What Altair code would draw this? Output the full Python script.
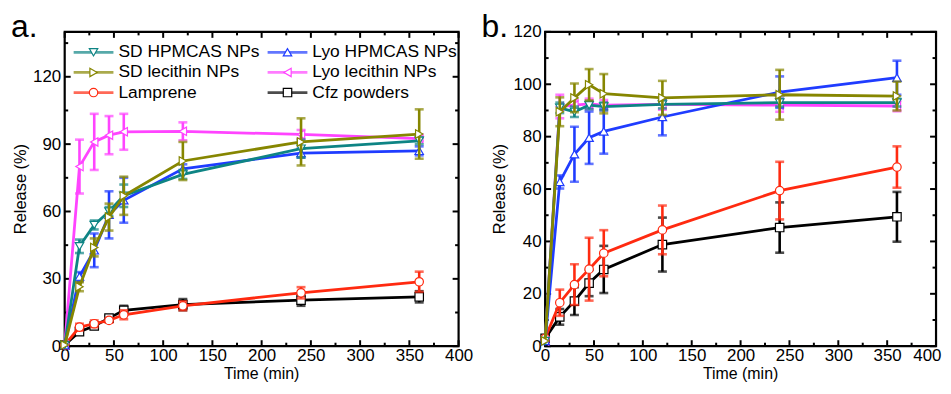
import altair as alt
import pandas as pd

FONT = "Liberation Sans"

TIME = [0, 15, 30, 45, 60, 120, 240, 360]
SERIES = ["SD HPMCAS NPs", "Lyo HPMCAS NPs", "SD lecithin NPs",
          "Lyo lecithin NPs", "Lamprene", "Cfz powders"]
COLORS = ["#0E8484", "#1F3CFF", "#868600", "#FF44FF", "#FF2A10", "#000000"]
SHAPES = ["triangle-down", "triangle-up", "triangle-right",
          "triangle-left", "circle", "square"]
DRAW_ORDER = [5, 4, 3, 1, 0, 2]

# Panel a: release (%) and error
A_VALUES = {
    "SD HPMCAS NPs":    [0.5, 44.5, 54.0, 60.0, 67.0, 76.5, 88.0, 91.5],
    "Lyo HPMCAS NPs":   [0.5, 31.0, 42.7, 58.5, 65.0, 79.0, 86.0, 87.0],
    "SD lecithin NPs":  [0.5, 26.5, 44.0, 57.5, 67.0, 82.5, 91.0, 94.5],
    "Lyo lecithin NPs": [0.5, 80.0, 91.0, 94.0, 95.5, 95.7, 94.3, 92.5],
    "Lamprene":         [0.5, 8.5, 10.0, 11.5, 14.0, 18.0, 23.8, 28.7],
    "Cfz powders":      [0.5, 6.5, 9.0, 12.5, 16.0, 18.5, 20.5, 22.0],
}
A_ERRORS = {
    "SD HPMCAS NPs":    [0, 3.0, 2.0, 2.0, 5.0, 2.0, 4.0, 1.5],
    "Lyo HPMCAS NPs":   [0, 2.0, 7.5, 10.5, 10.0, 2.0, 2.0, 2.0],
    "SD lecithin NPs":  [0, 2.0, 4.0, 6.0, 8.5, 8.5, 10.5, 11.0],
    "Lyo lecithin NPs": [0, 12.0, 12.5, 8.5, 8.0, 4.0, 2.0, 1.0],
    "Lamprene":         [0, 1.5, 1.5, 1.0, 2.0, 2.0, 2.5, 4.5],
    "Cfz powders":      [0, 1.0, 1.0, 1.0, 2.0, 2.5, 2.5, 2.5],
}

# Panel b
B_VALUES = {
    "SD HPMCAS NPs":    [2.0, 91.0, 89.5, 92.0, 91.5, 92.3, 93.0, 93.0],
    "Lyo HPMCAS NPs":   [2.0, 62.7, 73.3, 79.6, 82.0, 87.5, 97.0, 102.5],
    "SD lecithin NPs":  [2.0, 89.5, 94.8, 99.8, 96.4, 94.8, 96.0, 95.5],
    "Lyo lecithin NPs": [2.0, 91.5, 92.0, 92.5, 92.0, 92.3, 92.0, 91.7],
    "Lamprene":         [3.0, 16.6, 23.5, 29.4, 35.5, 44.4, 59.4, 68.4],
    "Cfz powders":      [3.0, 11.2, 17.2, 24.1, 29.3, 38.8, 45.3, 49.4],
}
B_ERRORS = {
    "SD HPMCAS NPs":    [0, 2.0, 2.0, 1.5, 1.5, 1.5, 1.5, 1.5],
    "Lyo HPMCAS NPs":   [0, 2.5, 10.5, 10.0, 8.5, 7.0, 6.0, 6.5],
    "SD lecithin NPs":  [0, 5.5, 5.5, 6.0, 7.5, 6.5, 9.5, 5.5],
    "Lyo lecithin NPs": [0, 4.5, 2.0, 2.0, 2.0, 2.0, 2.5, 2.0],
    "Lamprene":         [0, 5.0, 7.8, 12.0, 8.8, 9.3, 11.0, 7.9],
    "Cfz powders":      [0, 3.0, 5.3, 5.0, 9.0, 10.3, 9.6, 9.5],
}

X_MAJOR = [0, 50, 100, 150, 200, 250, 300, 350, 400]
X_MINOR = [25, 75, 125, 175, 225, 275, 325, 375]
A_Y_MAJOR = [0, 30, 60, 90, 120]
A_Y_MINOR = [15, 45, 75, 105, 135]
B_Y_MAJOR = [0, 20, 40, 60, 80, 100, 120]
B_Y_MINOR = [10, 30, 50, 70, 90, 110]

X_TITLE = "Time (min)"
Y_TITLE = "Release (%)"

LEG_COL = [0, 1, 0, 1, 0, 1]
LEG_ROW = [0, 0, 1, 1, 2, 2]

W_A, W_B, H = 396, 393, 316


def make_df(values, errors):
    rows = []
    for s in SERIES:
        for t, y, e in zip(TIME, values[s], errors[s]):
            rows.append({"s": s, "t": t, "y": y, "e": e})
    return pd.DataFrame(rows)


def text_layer(txt, **kw):
    enc = {k: v for k, v in kw.items() if k in ("x", "y")}
    mk = {k: v for k, v in kw.items() if k not in ("x", "y")}
    return alt.Chart(pd.DataFrame({"l": [txt]})).mark_text(
        font=FONT, color="black", fontWeight="normal", **mk).encode(text="l:N", **enc)


def panel(values, errors, ydomain, ymajor, yminor, W, label, label_dx, ytitle_dx,
          legend, flush):
    df = make_df(values, errors)
    xs = alt.Scale(domain=[0, 400], nice=False, zero=False)
    ys = alt.Scale(domain=ydomain, nice=False, zero=False)
    xa = dict(values=X_MAJOR, title=None, labelPadding=1, format="d", labelFontSize=17)
    if flush:
        xa.update(labelFlush=True, labelFlushOffset=5)
    else:
        xa.update(labelFlush=False)
    ax_x = alt.Axis(**xa)
    ax_y = alt.Axis(values=ymajor, title=None, labelFlush=False, labelPadding=4,
                    format="d", labelFontSize=17)
    X = lambda f: alt.X(f, scale=xs, axis=ax_x)
    Y = lambda f: alt.Y(f, scale=ys, axis=ax_y)

    layers = []
    # inward ticks on all four sides
    for vals, L in [(X_MAJOR, 6), (X_MINOR, 3.5)]:
        d = pd.DataFrame({"v": vals})
        layers.append(alt.Chart(d).mark_rule(color="black", strokeWidth=2).encode(
            x=X("v:Q"), y=alt.value(H), y2=alt.value(H - L)))
        layers.append(alt.Chart(d).mark_rule(color="black", strokeWidth=2).encode(
            x=X("v:Q"), y=alt.value(0), y2=alt.value(L)))
    for vals, L in [(ymajor, 6), (yminor, 3.5)]:
        d = pd.DataFrame({"v": vals})
        layers.append(alt.Chart(d).mark_rule(color="black", strokeWidth=2).encode(
            y=Y("v:Q"), x=alt.value(0), x2=alt.value(L)))
        layers.append(alt.Chart(d).mark_rule(color="black", strokeWidth=2).encode(
            y=Y("v:Q"), x=alt.value(W), x2=alt.value(W - L)))

    for i in DRAW_ORDER:
        name, color, shape = SERIES[i], COLORS[i], SHAPES[i]
        base = alt.Chart(df).transform_filter(alt.datum.s == name)
        err = base.transform_filter(alt.datum.e > 0).transform_calculate(
            lo="datum.y - datum.e", hi="datum.y + datum.e"
        ).mark_errorbar(ticks=True, thickness=2.6, size=9, color=color).encode(
            x=X("t:Q"), y=Y("lo:Q"), y2="hi:Q")
        line = base.mark_line(color=color, strokeWidth=2.8).encode(x=X("t:Q"), y=Y("y:Q"))
        pts = base.mark_point(shape=shape, filled=True, fill="white", stroke=color,
                              strokeWidth=1.2, size=72, opacity=1).encode(
            x=X("t:Q"), y=Y("y:Q"))
        layers += [err, line, pts]

    layers.append(text_layer(label, align="left", baseline="alphabetic", fontSize=32,
                             x=alt.value(label_dx), y=alt.value(5)))
    layers.append(text_layer(Y_TITLE, align="center", baseline="middle", fontSize=16.5,
                             angle=270, x=alt.value(ytitle_dx), y=alt.value(H / 2)))
    layers.append(text_layer(X_TITLE, align="center", baseline="alphabetic", fontSize=16,
                             x=alt.value(W / 2), y=alt.value(H + 33)))

    main = alt.layer(*layers)
    if not legend:
        return main.properties(width=W, height=H)

    leg_df = pd.DataFrame({"s": SERIES, "c": LEG_COL, "r": LEG_ROW})
    lx = alt.X("c:Q", scale=alt.Scale(domain=[0, 1], range=[29, 224]), axis=None)
    ly = alt.Y("r:Q", scale=alt.Scale(domain=[0, 2], range=[20.5, 61.0]), axis=None)
    lc = alt.Color("s:N", scale=alt.Scale(domain=SERIES, range=COLORS), legend=None)
    lstroke = alt.Stroke("s:N", scale=alt.Scale(domain=SERIES, range=COLORS), legend=None)
    lshape = alt.Shape("s:N", scale=alt.Scale(domain=SERIES, range=SHAPES), legend=None)
    leg_line = alt.Chart(leg_df).mark_tick(orient="horizontal", thickness=2.8, size=40).encode(
        x=lx, y=ly, color=lc)
    leg_pt = alt.Chart(leg_df).mark_point(filled=True, fill="white", size=72,
                                           strokeWidth=1.2, opacity=1).encode(
        x=lx, y=ly, stroke=lstroke, shape=lshape)
    leg_txt = alt.Chart(leg_df).mark_text(align="left", baseline="middle", dx=25,
                                          fontSize=17.5, font=FONT, color="black").encode(
        x=lx, y=ly, text="s:N")
    leg = alt.layer(leg_line, leg_pt, leg_txt)
    return alt.layer(main, leg).resolve_scale(x="independent", y="independent").properties(
        width=W, height=H)


pa = panel(A_VALUES, A_ERRORS, [0, 140], A_Y_MAJOR, A_Y_MINOR, W_A, "a.", -54, -43.5,
           True, False)
pb = panel(B_VALUES, B_ERRORS, [0, 120], B_Y_MAJOR, B_Y_MINOR, W_B, "b.", -64, -45,
           False, True)

chart = alt.hconcat(pa, pb, spacing=5).properties(
    padding={"left": 1, "top": 0, "right": 0, "bottom": 0}
).configure(font=FONT).configure_view(stroke="black", strokeWidth=2.2).configure_axis(
    grid=False, ticks=False, tickSize=0, domain=False,
    labelFont=FONT, labelFontSize=17, labelColor="black"
)

chart.save("out.html", embed_options={"renderer": "svg", "actions": False})
